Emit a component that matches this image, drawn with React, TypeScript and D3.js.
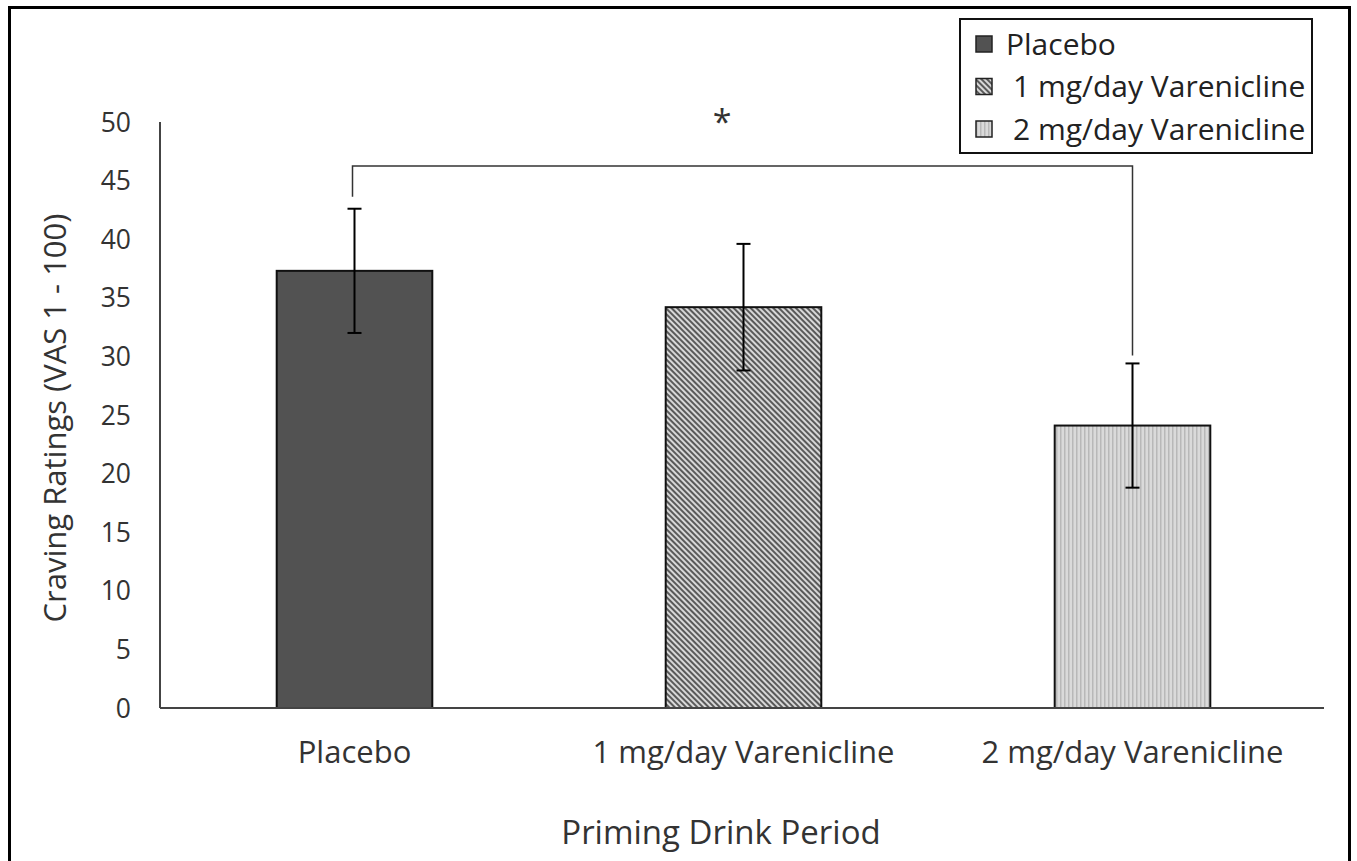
import React from 'react';
import * as d3 from 'd3';

const categories = ['Placebo', '1 mg/day Varenicline', '2 mg/day Varenicline'];
const means = [37.3, 34.2, 24.1];
const errors = [5.3, 5.4, 5.3];
const yTicks = [0, 5, 10, 15, 20, 25, 30, 35, 40, 45, 50];
const fills = ['#525252', 'url(#hatchDiag)', 'url(#hatchVert)'];
const sigPair = [0, 2];

const W = 1357;
const H = 861;
const FONT = '"Open Sans", Lato, sans-serif';

const App: React.FC = () => {
  const y = d3.scaleLinear().domain([0, 50]).range([708, 122]);
  const x = d3.scaleBand<string>().domain(categories).range([160, 1327]).paddingInner(0.6).paddingOuter(0.3);
  const cx = (i: number) => (x(categories[i]) ?? 0) + x.bandwidth() / 2;

  const bracketY = 166;
  const [a, b] = sigPair;
  const capW = 14;

  return (
    <div style={{ position: 'absolute', left: 0, top: 0 }}>
      <svg width={W} height={H} style={{ display: 'block', fontFamily: FONT }}>
        <defs>
          <pattern id="hatchDiag" patternUnits="userSpaceOnUse" width="4" height="4" patternTransform="rotate(-45)">
            <rect width="4" height="4" fill="#d8d8d8" />
            <rect width="2" height="4" fill="#5a5a5a" />
          </pattern>
          <pattern id="hatchVert" patternUnits="userSpaceOnUse" width="4" height="4">
            <rect width="4" height="4" fill="#dadada" />
            <rect width="1.5" height="4" fill="#b8b8b8" />
          </pattern>
        </defs>
        <rect x={0} y={0} width={W} height={H} fill="#fff" />
        <rect x={9.5} y={7.5} width={1340} height={H + 10} fill="none" stroke="#000" strokeWidth={3} />

        {/* y tick labels */}
        {yTicks.map((t) => (
          <text key={t} x={131} y={y(t)} dy="0.36em" textAnchor="end" fontSize={26.5} fill="#333">
            {t}
          </text>
        ))}

        {/* bars */}
        {categories.map((c, i) => (
          <rect
            key={c}
            x={x(c)}
            y={y(means[i])}
            width={x.bandwidth()}
            height={y(0) - y(means[i])}
            fill={fills[i]}
            stroke="#111"
            strokeWidth={2}
          />
        ))}

        {/* error bars */}
        {categories.map((c, i) => (
          <g key={c} stroke="#000" strokeWidth={2}>
            <line x1={cx(i)} x2={cx(i)} y1={y(means[i] + errors[i])} y2={y(means[i] - errors[i])} />
            <line x1={cx(i) - capW / 2} x2={cx(i) + capW / 2} y1={y(means[i] + errors[i])} y2={y(means[i] + errors[i])} />
            <line x1={cx(i) - capW / 2} x2={cx(i) + capW / 2} y1={y(means[i] - errors[i])} y2={y(means[i] - errors[i])} />
          </g>
        ))}

        {/* axes */}
        <line x1={160} x2={160} y1={y(50)} y2={y(0)} stroke="#444" strokeWidth={2} />
        <line x1={160} x2={1324} y1={y(0)} y2={y(0)} stroke="#444" strokeWidth={2} />

        {/* category labels */}
        {categories.map((c, i) => (
          <text key={c} x={cx(i)} y={752} dy="0.36em" textAnchor="middle" fontSize={31} fill="#333">
            {c}
          </text>
        ))}

        {/* significance bracket */}
        <path
          d={`M${cx(a) - 2},${y(means[a] + errors[a]) - 12} V${bracketY} H${cx(b)} V${y(means[b] + errors[b]) - 8}`}
          fill="none"
          stroke="#333"
          strokeWidth={1.5}
        />
        <text x={722} y={134} textAnchor="middle" fontSize={34} fill="#333">*</text>

        {/* axis titles */}
        <text x={721} y={832} dy="0.36em" textAnchor="middle" fontSize={33} fill="#333">
          Priming Drink Period
        </text>
        <text
          transform="translate(55,418) rotate(-90)"
          textAnchor="middle"
          dy="0.36em"
          fontSize={31}
          fill="#333"
        >
          Craving Ratings (VAS 1 - 100)
        </text>

        {/* legend */}
        <rect x={960} y={19} width={352} height={134} fill="#fff" stroke="#111" strokeWidth={2} />
        {categories.map((c, i) => (
          <g key={c} transform={`translate(976, ${44 + i * 42.5})`}>
            <rect x={0} y={-8} width={16} height={16} fill={fills[i]} stroke="#222" strokeWidth={1.5} />
            <text x={i === 0 ? 30 : 37} y={0} dy="0.36em" fontSize={30} fill="#222">
              {c}
            </text>
          </g>
        ))}
      </svg>
    </div>
  );
};

export default App;
